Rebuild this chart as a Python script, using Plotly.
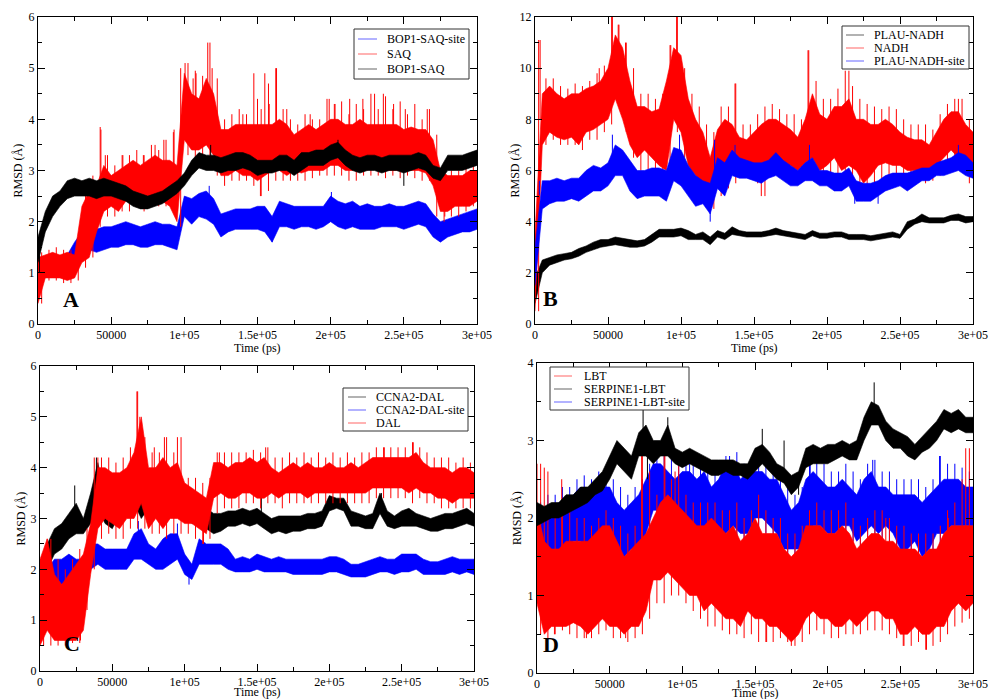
import plotly.graph_objects as go

W, H = 989, 699
TIME = list(range(0, 300001, 5000))          # band sample times (ps)
MID = list(range(2500, 300000, 5000))        # mid-bin times for noise extremes (ps)
X_TICKS = [0, 50000, 100000, 150000, 200000, 250000, 300000]
X_TICK_TEXT = ["0", "50000", "1e+05", "1.5e+05", "2e+05", "2.5e+05", "3e+05"]

# ---------------- Panel A ----------------
A_SITE_LO = [0.8,0.95,0.95,1.0,1.05,1.2,1.3,1.45,1.4,1.45,
             1.5,1.5,1.55,1.55,1.5,1.5,1.55,1.55,1.5,1.45,
             2.1,1.95,2.1,2.05,1.95,1.7,1.8,1.85,1.85,1.85,
             1.85,1.8,1.6,1.9,1.9,1.85,1.9,1.9,1.85,1.9,
             2.0,1.9,1.85,1.9,1.85,1.85,1.85,1.9,1.9,1.9,
             1.85,1.9,1.95,1.9,1.7,1.6,1.7,1.75,1.8,1.8,
             1.85]
A_SITE_HI = [1.3,1.2,1.25,1.3,1.35,1.6,1.8,1.9,1.85,1.9,
             1.9,1.95,2.0,1.95,1.9,1.95,2.0,1.95,1.95,1.9,
             2.5,2.45,2.55,2.6,2.45,2.15,2.2,2.25,2.25,2.25,
             2.3,2.3,2.1,2.4,2.35,2.3,2.3,2.3,2.3,2.3,
             2.5,2.4,2.35,2.4,2.3,2.35,2.3,2.3,2.35,2.3,
             2.3,2.35,2.4,2.35,2.15,2.0,2.05,2.1,2.15,2.2,
             2.25]
A_SITE_SPK_T = [117000, 200500, 160000]
A_SITE_SPK_V = [2.7, 2.58, 1.6]

A_LIG_LO = [0.4,0.9,0.9,0.9,0.85,0.9,1.2,1.3,1.8,2.2,
            2.3,2.2,2.4,2.4,2.3,2.4,2.4,2.4,2.3,2.0,
            3.6,3.4,3.4,3.5,3.3,2.9,2.9,3.0,2.9,2.9,
            2.8,2.9,3.0,3.0,2.9,3.0,2.95,3.0,3.0,3.0,
            3.1,3.1,3.0,3.0,3.1,3.0,3.1,3.0,3.0,3.0,
            3.0,3.0,3.0,2.95,2.7,2.2,2.2,2.3,2.3,2.3,
            2.4]
A_LIG_HI = [1.3,1.35,1.4,1.35,1.4,1.35,2.3,2.6,2.7,3.1,
            2.9,3.0,3.1,3.2,3.1,3.2,3.3,3.2,3.2,3.1,
            4.9,4.5,4.4,4.8,4.5,3.8,3.8,3.9,3.9,3.9,
            3.9,3.9,3.9,4.0,3.9,3.7,3.8,3.9,3.8,3.9,
            4.0,4.0,3.9,3.9,4.0,3.9,3.9,3.9,3.9,3.9,
            3.8,3.85,3.8,3.8,3.6,3.0,2.9,2.9,2.9,3.0,
            3.0]
A_LIG_DIP = [0.4,0.85,0.85,0.8,0.8,0.85,1.1,1.3,1.9,2.1,
             2.1,2.2,2.2,2.3,2.2,2.3,2.3,2.3,2.2,1.9,
             3.3,3.2,3.3,3.3,2.9,2.7,2.8,2.8,2.8,2.7,
             2.5,2.6,2.8,2.8,2.8,2.8,2.8,2.85,2.9,2.9,
             2.9,2.9,2.8,2.8,2.9,2.9,2.9,2.85,2.9,2.85,
             2.9,2.85,2.8,2.8,2.1,2.0,2.1,2.1,2.2,2.3]
A_LIG_PEAK = [1.4,1.45,1.5,1.45,1.45,1.7,2.6,2.9,3.85,3.3,
              3.1,3.3,3.3,3.4,3.3,3.5,3.4,3.6,3.75,5.0,
              5.1,4.95,4.85,5.5,4.8,4.0,4.1,4.2,4.1,4.9,
              4.2,4.7,5.0,4.2,4.0,3.9,4.1,4.0,4.0,4.4,
              4.3,4.35,4.1,4.3,4.2,4.5,4.2,4.45,4.2,4.35,
              4.1,4.3,4.0,4.2,3.7,3.1,3.0,3.0,3.1,3.2]
A_LIG_SPK_T = [43000,46000,58000,72000,80000,86000,93000,100500,106000,108000,
               116000,119000,140000,150000,155000,158000,163000,170000,186000,199000,
               203000,213000,222000,230000,236000,243000,251000,266000,152000,278000]
A_LIG_SPK_V = [3.8,3.3,3.3,3.3,3.5,3.6,3.8,5.1,4.8,4.9,
               5.5,5.0,4.1,4.4,4.9,4.3,5.0,4.2,4.1,4.4,
               4.3,4.4,4.4,4.5,4.5,4.3,4.2,4.2,2.5,2.1]

A_CPX_LO = [1.2,1.8,2.1,2.3,2.45,2.5,2.5,2.5,2.45,2.5,
            2.5,2.45,2.4,2.3,2.25,2.25,2.3,2.35,2.45,2.55,
            2.7,2.9,3.05,3.0,3.0,2.95,3.0,3.0,3.05,3.0,
            2.9,2.95,2.95,3.0,3.0,2.9,3.0,3.1,3.1,3.1,
            3.2,3.25,3.1,3.0,2.95,3.0,3.0,2.95,3.0,3.0,
            2.95,3.0,3.05,3.0,2.85,2.8,3.0,3.0,3.0,3.05,
            3.1]
A_CPX_HI = [1.7,2.2,2.5,2.6,2.8,2.85,2.8,2.85,2.8,2.85,
            2.8,2.75,2.7,2.6,2.55,2.5,2.55,2.6,2.7,2.8,
            2.95,3.2,3.35,3.3,3.3,3.25,3.3,3.35,3.35,3.3,
            3.2,3.2,3.2,3.3,3.3,3.2,3.35,3.35,3.4,3.4,
            3.5,3.55,3.4,3.3,3.25,3.3,3.3,3.25,3.3,3.3,
            3.3,3.3,3.35,3.3,3.1,3.05,3.3,3.3,3.3,3.35,
            3.4]
A_CPX_SPK_T = [118000, 250000, 205000, 1000]
A_CPX_SPK_V = [3.5, 2.7, 3.6, 1.0]

# ---------------- Panel B ----------------
B_CPX_LO = [0.8,2.0,2.3,2.4,2.5,2.55,2.65,2.8,2.9,3.0,
            3.05,3.1,3.05,3.0,3.0,3.05,3.2,3.4,3.4,3.4,
            3.45,3.3,3.3,3.3,3.1,3.4,3.3,3.5,3.45,3.4,
            3.4,3.4,3.45,3.5,3.45,3.4,3.35,3.3,3.45,3.35,
            3.35,3.4,3.4,3.3,3.3,3.3,3.25,3.3,3.35,3.4,
            3.35,3.7,3.9,4.0,3.95,3.95,3.95,4.05,4.05,3.95,
            4.0]
B_CPX_HI = [1.8,2.5,2.6,2.7,2.75,2.8,2.95,3.05,3.2,3.3,
            3.3,3.4,3.35,3.3,3.25,3.3,3.5,3.7,3.7,3.7,
            3.75,3.65,3.5,3.6,3.4,3.65,3.55,3.8,3.65,3.6,
            3.6,3.6,3.65,3.75,3.65,3.6,3.55,3.5,3.65,3.55,
            3.55,3.6,3.6,3.5,3.5,3.5,3.45,3.5,3.55,3.6,
            3.5,4.0,4.1,4.3,4.15,4.15,4.15,4.25,4.3,4.2,
            4.2]
B_CPX_SPK_T = [500]
B_CPX_SPK_V = [1.0]

B_LIG_LO = [0.5,7.0,7.5,7.3,7.2,7.3,7.0,7.5,7.6,7.8,
            8.0,8.8,8.0,7.0,6.5,6.8,6.5,6.2,6.0,8.0,
            7.5,6.2,5.8,5.5,4.8,5.5,5.9,6.0,6.0,6.2,
            6.0,5.8,6.2,6.3,6.1,6.2,6.0,6.3,6.5,6.0,
            6.2,6.5,6.0,6.2,6.0,5.5,5.8,6.2,6.3,6.2,
            6.2,6.0,6.0,6.0,6.0,6.2,6.5,6.8,6.5,6.3,
            6.0]
B_LIG_HI = [3.5,9.0,9.3,9.0,8.8,9.0,9.0,9.2,9.3,9.5,
            10.0,11.3,10.8,9.5,8.5,8.5,8.3,8.4,9.5,10.8,
            10.5,8.8,8.0,7.5,6.5,7.6,8.0,7.8,7.3,7.2,
            7.5,7.8,8.0,8.0,7.8,7.6,7.3,8.0,9.0,8.2,
            8.0,8.5,8.5,8.8,8.0,8.0,7.8,7.8,8.0,7.8,
            7.5,7.3,7.2,7.2,7.0,7.5,8.0,8.3,8.3,7.8,
            7.5]
B_LIG_DIP = [0.5,7.0,7.2,7.0,7.0,7.0,6.8,7.2,7.2,7.5,
             7.8,8.5,7.5,6.5,6.0,6.0,5.8,5.5,5.8,7.5,
             6.5,5.5,5.0,4.8,4.5,5.0,5.3,5.5,5.8,5.8,
             5.5,5.0,5.8,5.8,5.6,5.8,5.8,6.0,5.8,5.8,
             5.8,5.8,5.6,5.6,5.3,5.2,5.5,5.6,5.8,5.8,
             5.7,5.6,5.6,5.5,5.6,5.8,6.0,6.2,6.0,5.5]
B_LIG_PEAK = [11.1,9.6,9.6,9.3,9.2,9.4,9.3,9.5,9.8,10.1,
              12.0,11.7,11.0,10.0,9.0,9.0,8.8,9.0,10.9,12.0,
              10.0,9.0,8.5,7.8,7.5,8.5,8.5,9.4,7.8,7.8,
              8.2,8.5,8.6,8.4,8.2,8.2,8.0,10.7,9.5,8.8,
              8.8,9.2,9.9,9.3,8.8,8.6,8.5,8.4,8.5,8.4,
              8.0,7.8,7.8,7.8,7.6,8.2,8.6,8.8,8.8,8.0]
B_LIG_SPK_T = [3500,53000,57000,93000,97000,137000,187000,215000,290000,155000,120000,62000,44000]
B_LIG_SPK_V = [11.1,12.0,11.7,10.9,12.0,9.4,10.7,9.9,8.8,5.0,4.5,11.0,10.0]

B_SITE_LO = [1.5,4.5,4.7,4.8,4.8,4.9,4.8,5.0,5.2,5.2,
             5.4,5.8,5.8,5.2,4.9,5.0,5.0,5.0,4.8,5.6,
             5.4,5.0,4.6,4.7,4.3,5.3,5.0,5.8,5.7,5.7,
             5.6,5.5,5.7,5.8,5.6,5.4,5.4,5.6,5.6,5.4,
             5.4,5.2,5.2,5.4,4.8,4.8,4.8,5.0,5.2,5.3,
             5.4,5.2,5.4,5.6,5.6,5.8,5.8,5.9,6.0,5.8,
             5.7]
B_SITE_HI = [3.0,5.6,5.6,5.7,5.6,5.7,5.7,6.0,6.2,6.1,
             6.3,7.0,6.8,6.4,6.0,6.0,6.1,6.1,6.0,6.9,
             6.8,6.2,5.8,5.6,5.5,6.5,6.3,6.8,6.5,6.4,
             6.3,6.3,6.4,6.7,6.4,6.2,6.0,6.3,6.5,6.0,
             6.0,5.9,5.9,6.1,5.6,5.5,5.5,5.6,5.8,5.9,
             5.9,5.9,6.0,6.1,6.1,6.3,6.4,6.5,6.7,6.6,
             6.3]
B_SITE_SPK_T = [3000,53000,99000,120000,188000,219000,235000,290000,137000,123000]
B_SITE_SPK_V = [5.6,7.4,7.4,4.0,7.0,4.7,4.7,7.0,7.0,7.2]

# ---------------- Panel C ----------------
C_CPX_LO = [1.4,2.0,2.3,2.4,2.6,2.7,2.7,2.9,3.2,2.9,
            2.8,3.1,3.3,3.3,3.0,3.2,3.4,3.3,3.2,3.2,
            3.1,2.9,2.9,2.8,2.7,2.75,2.85,2.85,2.9,2.85,
            2.9,2.8,2.7,2.75,2.7,2.75,2.75,2.8,2.8,2.85,
            3.15,3.2,3.15,2.85,2.85,2.8,2.8,3.1,2.85,2.8,
            2.85,2.85,2.85,2.8,2.75,2.75,2.8,2.8,2.85,2.9,
            2.85]
C_CPX_HI = [2.0,2.5,2.8,2.9,3.1,3.3,3.0,3.5,4.1,3.4,
            3.3,3.7,3.9,3.9,3.7,3.8,4.0,3.8,3.7,3.6,
            3.5,3.2,3.3,3.2,3.1,3.1,3.15,3.15,3.2,3.15,
            3.2,3.1,3.0,3.05,3.05,3.05,3.05,3.1,3.1,3.15,
            3.45,3.4,3.4,3.15,3.1,3.05,3.1,3.5,3.15,3.05,
            3.15,3.2,3.1,3.05,3.0,3.05,3.1,3.1,3.15,3.2,
            3.1]
C_CPX_SPK_T = [24000, 39000, 153000, 236000]
C_CPX_SPK_V = [3.65, 4.2, 3.5, 3.5]

C_SITE_LO = [1.0,1.5,1.8,1.7,1.8,1.7,1.7,2.0,2.1,2.0,
             2.0,2.0,2.0,2.2,2.2,2.1,2.0,2.0,2.1,2.2,
             1.9,1.8,2.1,2.1,2.1,2.1,2.0,1.95,1.95,1.95,
             2.0,1.95,1.95,1.95,1.95,1.9,1.9,1.9,1.9,1.9,
             1.95,1.95,1.9,1.85,1.85,1.85,1.9,1.95,1.95,1.9,
             1.95,1.95,2.0,1.9,1.9,1.9,1.9,1.95,1.9,1.95,
             1.9]
C_SITE_HI = [1.6,2.0,2.2,2.2,2.3,2.2,2.2,2.5,2.5,2.4,
             2.4,2.4,2.4,2.7,2.8,2.5,2.4,2.6,2.7,2.7,
             2.3,2.1,2.6,2.5,2.5,2.5,2.4,2.2,2.25,2.2,
             2.3,2.25,2.2,2.25,2.2,2.2,2.2,2.2,2.2,2.2,
             2.25,2.25,2.2,2.1,2.1,2.15,2.2,2.25,2.2,2.2,
             2.3,2.3,2.3,2.2,2.15,2.15,2.2,2.25,2.2,2.2,
             2.2]
C_SITE_SPK_T = [68000, 95000, 103000]
C_SITE_SPK_V = [2.95, 2.9, 1.7]

C_LIG_LO = [0.5,0.8,0.6,0.6,0.6,0.6,0.8,1.9,2.8,3.0,
            2.9,2.8,3.0,3.0,3.3,2.8,3.0,2.8,3.0,3.0,
            2.9,2.9,2.8,2.7,3.4,3.5,3.4,3.4,3.5,3.5,
            3.4,3.4,3.5,3.4,3.5,3.5,3.5,3.4,3.5,3.5,
            3.5,3.5,3.5,3.5,3.5,3.5,3.6,3.6,3.6,3.6,
            3.6,3.5,3.6,3.5,3.5,3.4,3.4,3.3,3.4,3.4,
            3.4]
C_LIG_HI = [2.2,2.6,1.9,1.7,1.9,2.1,2.3,2.9,4.0,4.0,
            3.9,3.9,4.0,4.3,5.0,4.0,4.0,4.2,4.0,4.1,
            3.7,3.6,3.5,3.4,4.1,4.1,4.0,4.1,4.1,4.2,
            4.1,4.2,4.0,3.9,4.0,4.1,4.0,4.1,4.0,4.0,
            4.1,4.0,4.0,4.1,4.0,4.1,4.2,4.2,4.2,4.2,
            4.2,4.2,4.3,4.1,4.0,4.0,4.0,3.9,4.0,4.0,
            3.9]
C_LIG_DIP = [0.5,0.5,0.5,0.5,0.55,0.55,1.2,2.0,2.6,2.7,
             2.6,2.6,2.8,2.8,2.8,2.7,2.7,2.6,2.7,2.7,
             2.7,2.6,2.5,2.6,3.1,3.2,3.2,3.2,3.3,3.3,
             3.2,3.3,3.3,3.2,3.3,3.3,3.3,3.3,3.3,3.3,
             3.3,3.3,3.3,3.3,3.3,3.3,3.4,3.4,3.4,3.4,
             3.4,3.3,3.4,3.3,3.3,3.2,3.2,3.2,3.2,3.2]
C_LIG_PEAK = [2.3,2.6,2.2,2.0,2.2,2.4,2.8,4.2,4.2,4.2,
              4.1,4.2,4.4,5.5,4.6,4.3,4.3,4.6,4.3,4.6,
              3.8,3.8,3.7,3.8,4.3,4.3,4.3,4.3,4.3,4.35,
              4.3,4.4,4.2,4.2,4.3,4.2,4.3,4.2,4.3,4.2,
              4.3,4.2,4.3,4.2,4.3,4.3,4.4,4.4,4.4,4.4,
              4.4,4.5,4.4,4.3,4.2,4.2,4.2,4.1,4.2,4.1]
C_LIG_SPK_T = [67000,69000,79000,86000,95000,124000,156000,238000,258000,5000,113000,40000,28000]
C_LIG_SPK_V = [5.5,5.0,4.4,4.6,4.6,4.3,4.4,4.4,4.5,2.6,2.5,4.2,0.6]

# ---------------- Panel D ----------------
D_LIG_LO = [0.9,0.5,0.6,0.6,0.6,0.65,0.6,0.5,0.6,0.7,
            0.6,0.6,0.5,0.6,0.6,0.8,1.2,1.2,1.3,1.2,
            1.1,1.0,1.0,0.8,0.9,0.8,0.7,0.7,0.6,0.8,
            0.7,0.7,0.6,0.6,0.5,0.4,0.5,0.7,0.8,0.7,
            0.7,0.6,0.6,0.7,0.6,0.7,0.8,0.8,0.7,0.7,
            0.5,0.5,0.6,0.5,0.5,0.6,0.6,0.8,0.9,0.8,
            0.9]
D_LIG_HI = [2.1,1.7,1.6,1.6,1.7,1.7,1.7,1.7,1.8,1.9,
            1.9,1.7,1.5,1.6,1.7,1.8,2.0,2.2,2.3,2.2,
            2.1,2.0,1.9,1.9,2.0,1.9,1.8,1.9,1.7,1.8,
            2.0,1.8,1.8,1.8,1.6,1.5,1.6,1.9,1.9,1.9,
            1.8,1.8,1.9,1.8,1.6,1.7,1.8,1.8,1.7,1.7,
            1.6,1.6,1.6,1.5,1.6,1.6,1.8,1.9,1.9,1.9,
            1.9]
D_LIG_DIP = [0.5,0.45,0.5,0.55,0.5,0.45,0.45,0.45,0.5,0.55,
             0.45,0.45,0.4,0.45,0.5,0.7,0.9,0.9,1.0,1.0,
             0.9,0.8,0.7,0.6,0.6,0.55,0.5,0.5,0.45,0.5,
             0.4,0.4,0.4,0.45,0.4,0.35,0.4,0.5,0.55,0.5,
             0.45,0.45,0.5,0.5,0.5,0.55,0.55,0.55,0.5,0.45,
             0.35,0.35,0.4,0.3,0.35,0.4,0.5,0.6,0.65,0.7]
D_LIG_PEAK = [2.7,2.6,2.0,2.1,2.1,2.0,2.0,1.9,2.0,2.1,
              2.0,1.9,1.8,1.9,2.8,2.6,2.3,2.8,2.5,2.7,
              2.3,2.2,2.2,2.2,2.2,2.1,2.1,2.2,2.0,2.1,
              2.3,2.1,2.0,2.0,1.8,1.8,1.9,2.1,2.2,2.1,
              2.1,2.1,2.2,2.0,1.9,2.0,2.1,2.1,2.0,1.9,
              1.9,1.8,1.8,1.8,1.8,1.9,2.1,2.2,2.5,2.9]
D_LIG_SPK_T = [0,5000,17000,72000,88000,95000,240000,283000,295000,175000,252000,268000,158000,61000,34000,12000]
D_LIG_SPK_V = [2.7,2.65,2.5,2.8,2.8,2.6,2.0,2.0,2.9,0.35,0.35,0.3,0.4,0.45,0.45,0.5]

D_CPX_LO = [1.9,1.95,2.0,2.0,2.05,2.1,2.15,2.2,2.3,2.35,
            2.5,2.7,2.6,2.5,2.8,2.8,2.7,2.8,2.8,2.7,
            2.65,2.7,2.65,2.6,2.55,2.55,2.6,2.55,2.55,2.5,
            2.6,2.7,2.6,2.5,2.45,2.3,2.4,2.65,2.7,2.7,
            2.7,2.75,2.8,2.75,2.75,3.0,3.2,3.2,3.0,2.9,
            2.9,2.8,2.75,2.85,2.9,3.0,3.15,3.1,3.15,3.1,
            3.1]
D_CPX_HI = [2.2,2.15,2.2,2.2,2.3,2.3,2.4,2.4,2.5,2.6,
            2.8,3.0,2.9,2.8,3.1,3.2,3.0,3.0,3.2,2.9,
            2.85,2.9,2.85,2.8,2.75,2.75,2.75,2.75,2.7,2.7,
            2.9,2.95,2.85,2.7,2.65,2.55,2.6,2.9,2.95,2.9,
            2.95,2.95,3.0,2.95,3.0,3.3,3.5,3.45,3.25,3.15,
            3.1,3.05,2.95,3.05,3.15,3.25,3.4,3.35,3.4,3.3,
            3.3]
D_CPX_SPK_T = [73000,232000,90000,155000,170000,76000,180000]
D_CPX_SPK_V = [3.4,3.75,3.3,3.15,3.0,2.5,2.3]

D_SITE_LO = [1.0,1.6,1.5,1.5,1.6,1.7,1.7,1.6,1.7,1.8,
             1.6,1.5,1.5,1.6,1.6,1.8,2.1,2.1,2.1,1.9,
             1.9,1.9,1.8,1.9,1.8,1.8,1.8,1.9,1.8,1.8,
             2.0,2.0,1.9,1.8,1.6,1.6,1.6,1.7,1.9,1.9,
             1.8,1.8,1.9,1.9,1.7,1.8,1.9,1.8,1.9,1.8,
             1.6,1.6,1.7,1.5,1.6,1.8,1.8,1.9,1.9,1.9,
             1.9]
D_SITE_HI = [2.0,2.1,2.1,2.2,2.2,2.3,2.4,2.3,2.4,2.4,
             2.4,2.2,2.1,2.2,2.3,2.5,2.7,2.7,2.6,2.5,
             2.6,2.6,2.5,2.6,2.4,2.5,2.7,2.7,2.5,2.6,
             2.6,2.6,2.5,2.5,2.3,2.1,2.2,2.5,2.6,2.5,
             2.4,2.4,2.5,2.4,2.3,2.5,2.6,2.4,2.4,2.3,
             2.3,2.3,2.3,2.2,2.3,2.4,2.5,2.5,2.5,2.4,
             2.4]
D_SITE_DIP = [1.2,1.4,1.35,1.4,1.45,1.5,1.5,1.45,1.55,1.55,
              1.45,1.35,1.4,1.45,1.5,1.7,1.9,1.9,1.9,1.75,
              1.75,1.7,1.65,1.7,1.65,1.65,1.65,1.7,1.65,1.65,
              1.8,1.8,1.75,1.6,1.45,1.4,1.45,1.55,1.7,1.7,
              1.65,1.65,1.7,1.7,1.55,1.65,1.7,1.6,1.7,1.6,
              1.45,1.45,1.5,1.35,1.45,1.6,1.6,1.7,1.7,1.7]
D_SITE_PEAK = [2.2,2.3,2.3,2.4,2.4,2.5,2.55,2.5,2.6,2.6,
               2.5,2.4,2.3,2.4,2.5,2.7,2.85,2.9,2.8,2.7,
               2.75,2.75,2.7,2.75,2.6,2.7,2.8,2.85,2.7,2.75,
               2.75,2.75,2.7,2.65,2.5,2.3,2.4,2.8,2.75,2.7,
               2.6,2.6,2.7,2.6,2.5,2.7,2.75,2.6,2.6,2.5,
               2.5,2.5,2.5,2.4,2.5,2.8,2.7,2.7,2.65,2.6]
D_SITE_SPK_T = [130000,188000,231000,277000,105000,60000]
D_SITE_SPK_V = [2.8,2.8,2.75,2.8,2.75,1.5]

RED, BLUE, BLACK = "#ff0000", "#0000ff", "#000000"

# series tuple: (name, colour, lo, hi, spike_t, spike_v, dips, peaks)
SA_SITE = ("BOP1-SAQ-site", BLUE, A_SITE_LO, A_SITE_HI, A_SITE_SPK_T, A_SITE_SPK_V, None, None)
SA_LIG = ("SAQ", RED, A_LIG_LO, A_LIG_HI, A_LIG_SPK_T, A_LIG_SPK_V, A_LIG_DIP, A_LIG_PEAK)
SA_CPX = ("BOP1-SAQ", BLACK, A_CPX_LO, A_CPX_HI, A_CPX_SPK_T, A_CPX_SPK_V, None, None)
SB_CPX = ("PLAU-NADH", BLACK, B_CPX_LO, B_CPX_HI, B_CPX_SPK_T, B_CPX_SPK_V, None, None)
SB_LIG = ("NADH", RED, B_LIG_LO, B_LIG_HI, B_LIG_SPK_T, B_LIG_SPK_V, B_LIG_DIP, B_LIG_PEAK)
SB_SITE = ("PLAU-NADH-site", BLUE, B_SITE_LO, B_SITE_HI, B_SITE_SPK_T, B_SITE_SPK_V, None, None)
SC_CPX = ("CCNA2-DAL", BLACK, C_CPX_LO, C_CPX_HI, C_CPX_SPK_T, C_CPX_SPK_V, None, None)
SC_SITE = ("CCNA2-DAL-site", BLUE, C_SITE_LO, C_SITE_HI, C_SITE_SPK_T, C_SITE_SPK_V, None, None)
SC_LIG = ("DAL", RED, C_LIG_LO, C_LIG_HI, C_LIG_SPK_T, C_LIG_SPK_V, C_LIG_DIP, C_LIG_PEAK)
SD_LIG = ("LBT", RED, D_LIG_LO, D_LIG_HI, D_LIG_SPK_T, D_LIG_SPK_V, D_LIG_DIP, D_LIG_PEAK)
SD_CPX = ("SERPINE1-LBT", BLACK, D_CPX_LO, D_CPX_HI, D_CPX_SPK_T, D_CPX_SPK_V, None, None)
SD_SITE = ("SERPINE1-LBT-site", BLUE, D_SITE_LO, D_SITE_HI, D_SITE_SPK_T, D_SITE_SPK_V,
           D_SITE_DIP, D_SITE_PEAK)

# (axis suffix, y range, y dtick, y minor, legend order, draw order,
#  legend box px, legend row y px, legend line/text x px, plot box px, letter, letter px,
#  x-title gap px)
PANELS = [
    ("", [0, 6], 1, 0.5, [SA_SITE, SA_LIG, SA_CPX], [SA_SITE, SA_LIG, SA_CPX],
     (354, 29, 469, 79), [39, 54, 69], (358, 377, 385),
     (38, 17, 477, 324), "A", (71, 299), 24),
    ("2", [0, 12], 2, 1, [SB_CPX, SB_LIG, SB_SITE], [SB_CPX, SB_LIG, SB_SITE],
     (842, 26, 969, 69), [35, 48, 61], (846, 864, 872),
     (535, 17, 973, 324), "B", (550, 298), 24),
    ("3", [0, 6], 1, 0.5, [SC_CPX, SC_SITE, SC_LIG], [SC_CPX, SC_SITE, SC_LIG],
     (343, 388, 468, 431), [397, 410, 423], (348, 366, 374),
     (40, 366, 474, 671), "C", (72, 643), 21),
    ("4", [0, 4], 1, 0.5, [SD_LIG, SD_CPX, SD_SITE], [SD_SITE, SD_LIG, SD_CPX],
     (550, 367, 689, 410), [376, 389, 402], (554, 572, 582),
     (537, 363, 973, 673), "D", (551, 644), 20),
]


def px(x):
    return x / W


def py(y):
    return 1 - y / H


def spikes(ts, vs, lo, hi):
    xs, ys = [], []
    for t, v in zip(ts, vs):
        i = min(range(len(TIME)), key=lambda k: abs(TIME[k] - t))
        xs += [t, t, None]
        ys += [(lo[i] + hi[i]) / 2, v, None]
    return xs, ys


def whiskers(dips, peaks):
    xs, ys = [], []
    for t, a, b in zip(MID, dips, peaks):
        xs += [t, t, None]
        ys += [a, b, None]
    return xs, ys


FONT = "Liberation Serif, Times New Roman, serif"
fig = go.Figure()
shapes, annos = [], []
layout = {}

for (suf, yr, ydt, ymin, legend_series, draw_series, lbox, lrows, lx, dom,
     letter, lpos, tgap) in PANELS:
    xa, ya = "x" + suf, "y" + suf
    for name, col, lo, hi, st, sv, dips, peaks in draw_series:
        if dips is not None:
            wx, wy = whiskers(dips, peaks)
            fig.add_trace(go.Scatter(
                x=wx, y=wy, xaxis=xa, yaxis=ya, mode="lines",
                line=dict(color=col, width=1), showlegend=False, hoverinfo="skip"))
        fig.add_trace(go.Scatter(
            x=TIME + TIME[::-1], y=hi + lo[::-1], xaxis=xa, yaxis=ya,
            mode="lines", fill="toself", fillcolor=col,
            line=dict(color=col, width=0.6), showlegend=False, hoverinfo="skip"))
        sx, sy = spikes(st, sv, lo, hi)
        fig.add_trace(go.Scatter(
            x=sx, y=sy, xaxis=xa, yaxis=ya, mode="lines",
            line=dict(color=col, width=1), showlegend=False, hoverinfo="skip"))
    x0, y0, x1, y1 = dom
    common = dict(showline=True, linecolor="black", linewidth=1, mirror="ticks",
                  ticks="inside", ticklen=7, tickcolor="black", tickwidth=1,
                  showgrid=False, zeroline=False, automargin=False,
                  tickfont=dict(family=FONT, size=12, color="black"))
    layout["xaxis" + suf] = dict(
        common, domain=[px(x0), px(x1)], range=[0, 300000],
        tickmode="array", tickvals=X_TICKS, ticktext=X_TICK_TEXT,
        minor=dict(ticks="inside", ticklen=4, tickcolor="black", tickmode="linear",
                   tick0=0, dtick=25000, showgrid=False),
        anchor=ya)
    layout["yaxis" + suf] = dict(
        common, domain=[py(y1), py(y0)], range=yr, tickmode="linear", tick0=0, dtick=ydt,
        minor=dict(ticks="inside", ticklen=4, tickcolor="black", tickmode="linear",
                   tick0=0, dtick=ymin, showgrid=False),
        anchor=xa)
    annos.append(dict(x=px((x0 + x1) / 2), y=py(y1 + tgap), xref="paper", yref="paper",
                      text="Time (ps)", showarrow=False, xanchor="center", yanchor="middle",
                      font=dict(family=FONT, size=12, color="black")))
    annos.append(dict(x=px(x0 - 20), y=py((y0 + y1) / 2), xref="paper", yref="paper",
                      text="RMSD (Å)", showarrow=False, textangle=-90,
                      xanchor="center", yanchor="middle",
                      font=dict(family=FONT, size=12, color="black")))
    annos.append(dict(x=px(lpos[0]), y=py(lpos[1]), xref="paper", yref="paper",
                      text="<b>%s</b>" % letter, showarrow=False, xanchor="center",
                      yanchor="middle", font=dict(family=FONT, size=22, color="black")))
    shapes.append(dict(type="rect", xref="paper", yref="paper",
                       x0=px(lbox[0]), y0=py(lbox[3]), x1=px(lbox[2]), y1=py(lbox[1]),
                       line=dict(color="#333333", width=1), fillcolor="white", layer="above"))
    for s, ry in zip(legend_series, lrows):
        name, col = s[0], s[1]
        shapes.append(dict(type="line", xref="paper", yref="paper",
                           x0=px(lx[0]), x1=px(lx[1]), y0=py(ry), y1=py(ry),
                           line=dict(color=col, width=1), layer="above", opacity=0.6))
        annos.append(dict(x=px(lx[2]), y=py(ry), xref="paper", yref="paper", text=name,
                          showarrow=False, xanchor="left", yanchor="middle",
                          font=dict(family=FONT, size=12, color="black")))

fig.update_layout(
    width=W, height=H, margin=dict(l=0, r=0, t=0, b=0, autoexpand=False),
    paper_bgcolor="white", plot_bgcolor="white", showlegend=False,
    shapes=shapes, annotations=annos, **layout)

fig.write_html("out.html", config={"displayModeBar": False},
               post_script="document.body.style.margin='0px';"
                           "document.body.style.overflow='hidden';")
